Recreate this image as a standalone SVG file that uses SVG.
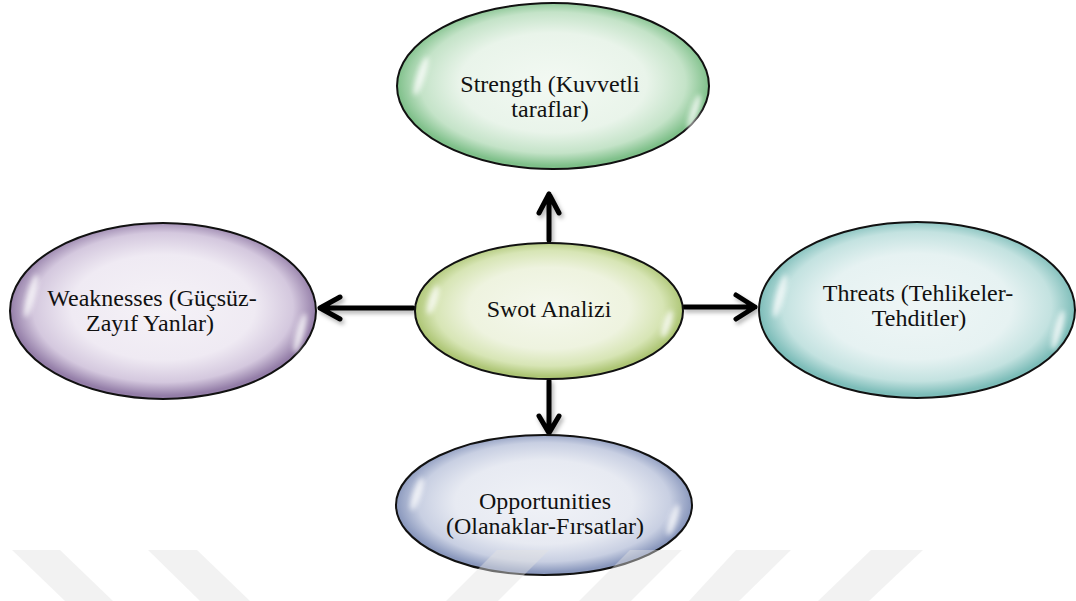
<svg xmlns="http://www.w3.org/2000/svg" width="1076" height="601" viewBox="0 0 1076 601">
  <defs>
    <radialGradient id="gGreen" cx="50%" cy="48%" r="50%">
      <stop offset="0" stop-color="#f3f9f3"/>
      <stop offset="0.6" stop-color="#e9f4ea"/>
      <stop offset="0.85" stop-color="#c4e3c8"/>
      <stop offset="1" stop-color="#7fc08a"/>
    </radialGradient>
    <radialGradient id="gLime" cx="50%" cy="48%" r="50%">
      <stop offset="0" stop-color="#f5f8ee"/>
      <stop offset="0.6" stop-color="#eef3df"/>
      <stop offset="0.85" stop-color="#d7e5b5"/>
      <stop offset="1" stop-color="#aec676"/>
    </radialGradient>
    <radialGradient id="gPurple" cx="50%" cy="48%" r="50%">
      <stop offset="0" stop-color="#f5f2f7"/>
      <stop offset="0.6" stop-color="#efeaf3"/>
      <stop offset="0.85" stop-color="#d4c8de"/>
      <stop offset="1" stop-color="#947ea8"/>
    </radialGradient>
    <radialGradient id="gTeal" cx="50%" cy="48%" r="50%">
      <stop offset="0" stop-color="#eff6f6"/>
      <stop offset="0.6" stop-color="#e6f2f2"/>
      <stop offset="0.85" stop-color="#c3e2e0"/>
      <stop offset="1" stop-color="#7dbdb9"/>
    </radialGradient>
    <radialGradient id="gBlue" cx="50%" cy="48%" r="50%">
      <stop offset="0" stop-color="#f0f2f7"/>
      <stop offset="0.6" stop-color="#e7eaf2"/>
      <stop offset="0.85" stop-color="#c8cfe2"/>
      <stop offset="1" stop-color="#8a98bd"/>
    </radialGradient>
    <filter id="glint" x="-50%" y="-50%" width="200%" height="200%">
      <feGaussianBlur stdDeviation="2.5"/>
    </filter>
    <filter id="shadow" x="-20%" y="-20%" width="140%" height="140%">
      <feDropShadow dx="2" dy="3" stdDeviation="2" flood-color="#000" flood-opacity="0.3"/>
    </filter>
  </defs>
  <style>
    .bubble { stroke: #111; stroke-width: 2; }
    .gl { fill: #ffffff; opacity: 0.75; filter: url(#glint); }
    .lbl { font-family: "Liberation Serif", "Times New Roman", serif; font-size: 24px; fill: #111; text-anchor: middle; }
    .conn { stroke: #000; stroke-width: 5; fill: none; stroke-linecap: round; stroke-linejoin: round; }
    .wm { fill: #e2e2e2; opacity: 0.45; }
  </style>
  <rect width="1076" height="601" fill="#ffffff"/>

  <g id="connectors" filter="url(#shadow)">
    <path class="conn" d="M549,240 L549,194 M539,213 L549,194 L559,213"/>
    <path class="conn" d="M413,308 L320,308 M340,297 L320,308 L340,319"/>
    <path class="conn" d="M684,307 L755,307 M736,295 L755,307 L736,319"/>
    <path class="conn" d="M549,381 L549,433 M539,416 L549,433 L559,416"/>
  </g>

  <g id="strength">
    <ellipse class="bubble" cx="553" cy="86" rx="156" ry="83" fill="url(#gGreen)"/>
    <ellipse class="gl" cx="421" cy="76" rx="4" ry="20" transform="rotate(18 421 76)"/>
    <ellipse class="gl" cx="694" cy="112" rx="4" ry="18" transform="rotate(18 694 112)"/>
    <text class="lbl" x="550" y="92">Strength (Kuvvetli</text>
    <text class="lbl" x="550" y="117">taraflar)</text>
  </g>

  <g id="swot">
    <ellipse class="bubble" cx="549" cy="311" rx="134" ry="68" fill="url(#gLime)"/>
    <ellipse class="gl" cx="433" cy="300" rx="4" ry="15" transform="rotate(18 433 300)"/>
    <ellipse class="gl" cx="667" cy="324" rx="4" ry="14" transform="rotate(18 667 324)"/>
    <text class="lbl" x="549" y="317">Swot Analizi</text>
  </g>

  <g id="weaknesses">
    <ellipse class="bubble" cx="163" cy="311" rx="153" ry="88" fill="url(#gPurple)"/>
    <ellipse class="gl" cx="31" cy="296" rx="4" ry="22" transform="rotate(15 31 296)"/>
    <ellipse class="gl" cx="300" cy="333" rx="4" ry="20" transform="rotate(15 300 333)"/>
    <text class="lbl" x="152" y="306">Weaknesses (Güçsüz-</text>
    <text class="lbl" x="150" y="331">Zayıf Yanlar)</text>
  </g>

  <g id="threats">
    <ellipse class="bubble" cx="917" cy="310" rx="158" ry="88" fill="url(#gTeal)"/>
    <ellipse class="gl" cx="780" cy="296" rx="4" ry="22" transform="rotate(15 780 296)"/>
    <ellipse class="gl" cx="1058" cy="330" rx="4" ry="20" transform="rotate(15 1058 330)"/>
    <text class="lbl" x="918" y="301">Threats (Tehlikeler-</text>
    <text class="lbl" x="919" y="326">Tehditler)</text>
  </g>

  <g id="opportunities">
    <ellipse class="bubble" cx="544" cy="505" rx="148" ry="70" fill="url(#gBlue)"/>
    <ellipse class="gl" cx="417" cy="494" rx="4" ry="17" transform="rotate(18 417 494)"/>
    <ellipse class="gl" cx="673" cy="520" rx="4" ry="16" transform="rotate(18 673 520)"/>
    <text class="lbl" x="545" y="509">Opportunities</text>
    <text class="lbl" x="545" y="534">(Olanaklar-Fırsatlar)</text>
  </g>

  <g id="watermark">
    <polygon class="wm" points="12,550 60,550 113,601 65,601"/>
    <polygon class="wm" points="148,550 197,550 250,601 200,601"/>
    <polygon class="wm" points="497,550 549,550 498,601 446,601"/>
    <polygon class="wm" points="630,550 682,550 631,601 579,601"/>
    <polygon class="wm" points="736,550 791,550 739,601 689,601"/>
    <polygon class="wm" points="871,550 923,550 869,601 818,601"/>
  </g>
</svg>
